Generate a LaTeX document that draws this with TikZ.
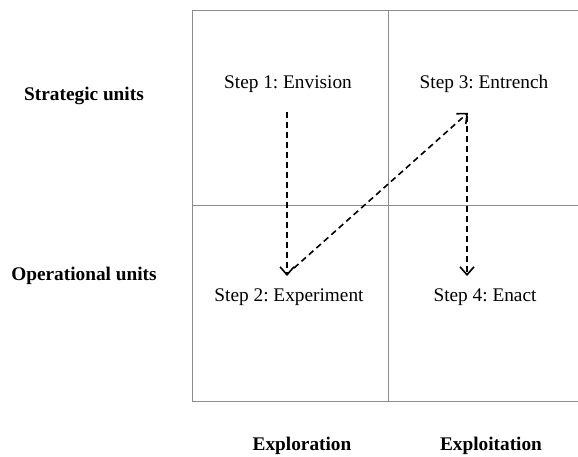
\documentclass[tikz,border=0pt]{standalone}
\usepackage{fontspec}
\setmainfont{Liberation Serif}
\frenchspacing
\usetikzlibrary{arrows.meta,calc}
\begin{document}
\begin{tikzpicture}[x=1pt,y=-1pt,
  gridline/.style={draw=black!45,line width=0.9pt},
  steplabel/.style={font=\fontsize{19.3}{22}\selectfont,inner sep=0pt,anchor=base},
  axislabel/.style={font=\fontsize{19.3}{22}\selectfont\bfseries,inner sep=0pt,anchor=base},
  flow/.style={draw=black,line width=1.6pt,dash pattern=on 6pt off 4pt,
    -{Straight Barb[length=8pt,width=14pt,line width=1.6pt]}}]
\useasboundingbox[fill=white] (0,0) rectangle (578,456);
\begin{scope}
\clip (0,0) rectangle (578,456);
\draw[gridline] (192,10) rectangle (600,401);
\draw[gridline] (388,10) -- (388,401);
\draw[gridline] (192,205) -- (600,205);
\end{scope}
\node[steplabel] (s1) at (288,88.5) {Step 1: Envision};
\node[steplabel] (s3) at (484,88.5) {Step 3: Entrench};
\node[steplabel] (s2) at (289,301) {Step 2: Experiment};
\node[steplabel] (s4) at (485,301) {Step 4: Enact};
\node[axislabel] (su) at (84,100.5) {Strategic units};
\node[axislabel] (ou) at (84,280) {Operational units};
\node[axislabel] (ex1) at (302,450) {Exploration};
\node[axislabel] (ex2) at (491,450) {Exploitation};
\coordinate (a1) at ($(s1.south)+(-1,19)$);
\coordinate (b1) at ($(s2.north)+(-2,-12)$);
\coordinate (a2) at ($(b1)+(7,-8)$);
\coordinate (b2) at ($(s3.south)+(-16,20)$);
\coordinate (a3) at ($(s3.south)+(-17,23)$);
\coordinate (b3) at ($(s4.north)+(-18,-12)$);
\draw[flow] (a1) -- (b1);
\draw[flow] (a2) -- (b2);
\draw[flow] (a3) -- (b3);
\end{tikzpicture}
\end{document}
